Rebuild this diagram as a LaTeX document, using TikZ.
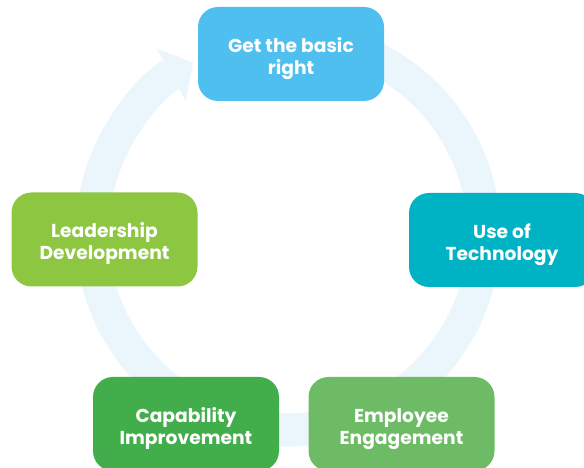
\documentclass[tikz,border=0pt]{standalone}
\usepackage{fontspec}
\setmainfont{Poppins}
\usepackage{xcolor}
\usepackage{tikz}
\usetikzlibrary{arrows.meta}

\definecolor{ringblue}{HTML}{EAF5FC}
\definecolor{skyblue}{HTML}{4FBFEF}
\definecolor{tealblue}{HTML}{00B3C4}
\definecolor{limegreen}{HTML}{8DC641}
\definecolor{darkgreen}{HTML}{42AD4B}
\definecolor{softgreen}{HTML}{6EBB66}

\begin{document}
\begin{tikzpicture}[
        box/.style={rectangle, rounded corners=0.5cm, minimum height=2.35cm, minimum width=4.65cm,
            inner sep=0pt, align=center, text=white, text height=29pt, text depth=0pt,
            font=\fontsize{13.3}{15.6}\selectfont\bfseries},
        ring/.style={ringblue, line width=0.825cm,
            -{Triangle[length=0.625cm, width=1.5cm, line width=0pt]}}
    ]
        \useasboundingbox (0,0) rectangle (14.6,11.7);
        % cycle behind the boxes
        \coordinate (C) at (7.2,5.85);
        \draw[ring] ([shift={(70:4.9)}]C) arc[start angle=70, end angle=-241, radius=4.9];
        \node[box, fill=skyblue] (G) at (7.275,10.35) {Get the basic\\right};
        \node[box, fill=tealblue] (T) at (12.55,5.7) {Use of\\Technology};
        \node[box, fill=softgreen] (E) at (10.0375,1.1) {Employee\\Engagement};
        \node[box, fill=darkgreen] (C2) at (4.65,1.1) {Capability\\Improvement};
        \node[box, fill=limegreen] (L) at (2.6125,5.7125) {Leadership\\Development};
    \end{tikzpicture}
\end{document}
